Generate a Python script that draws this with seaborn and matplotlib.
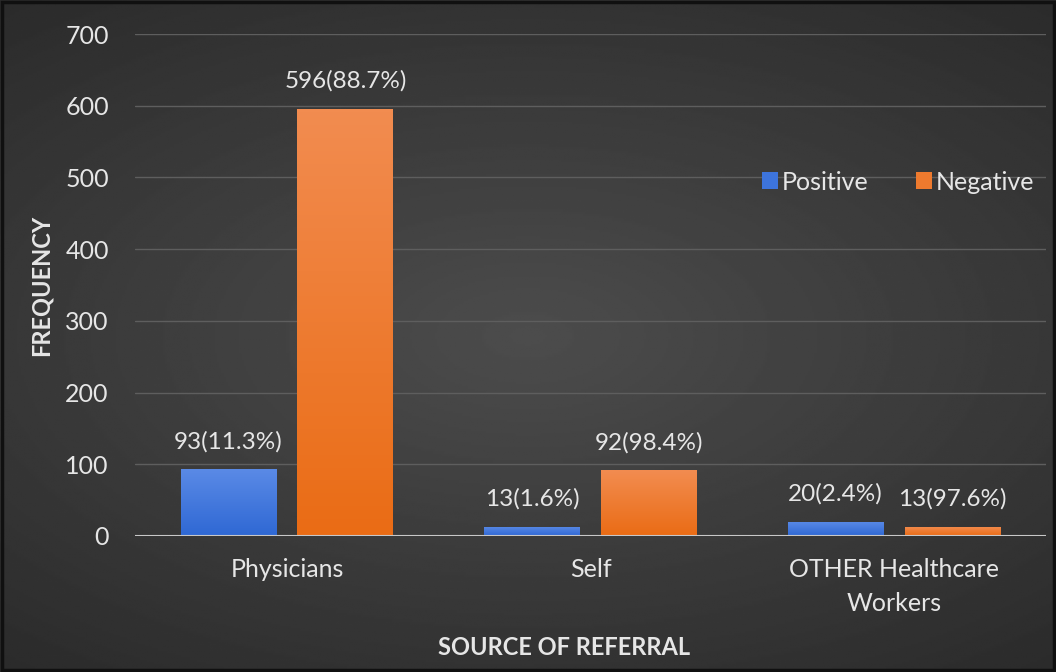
import numpy as np
import pandas as pd
import matplotlib
matplotlib.use('Agg')
import matplotlib.pyplot as plt
import seaborn as sns

categories = ['Physicians', 'Self', 'OTHER Healthcare\nWorkers']
positive = [93, 13, 20]
negative = [596, 92, 13]
pos_labels = ['93(11.3%)', '13(1.6%)', '20(2.4%)']
neg_labels = ['596(88.7%)', '92(98.4%)', '13(97.6%)']

df = pd.DataFrame({
    'source': categories * 2,
    'result': ['Positive'] * 3 + ['Negative'] * 3,
    'count': positive + negative,
})

sns.set_theme(style='dark')
plt.rcParams['font.family'] = ['Lato', 'DejaVu Sans']

fig = plt.figure(figsize=(10.56, 6.72), dpi=100)

# dark radial background
bg = fig.add_axes([0, 0, 1, 1], zorder=-10)
yy, xx = np.mgrid[-1:1:300j, -1:1:470j]
r = np.sqrt((xx * 0.9) ** 2 + (yy * 1.1) ** 2)
bg.imshow(0.30 - 0.13 * np.clip(r, 0, 1.4) / 1.4, cmap='gray', vmin=0, vmax=1,
          aspect='auto', extent=[0, 1, 0, 1])
bg.set_axis_off()
bg.add_patch(plt.Rectangle((0.002, 0.003), 0.996, 0.994, fill=False,
                           edgecolor='#101010', linewidth=2.5, transform=bg.transAxes))

ax = fig.add_axes([0.128, 0.2024, 0.8625, 0.747])
ax.set_facecolor('none')

sns.barplot(data=df, x='source', y='count', hue='result',
            palette={'Positive': '#3d74dc', 'Negative': '#ee7a2e'},
            width=0.77, gap=0.18, ax=ax, zorder=3, saturation=1, linewidth=0)

# vertical gradient on each bar
grad = np.linspace(1, 0, 100).reshape(-1, 1)
tops = {'#3d74dc': ('#5a8ae6', '#2f68d4'), '#ee7a2e': ('#f28c50', '#ea6c15')}
for bar, col in zip(ax.patches[:6], ['#3d74dc'] * 3 + ['#ee7a2e'] * 3):
    x0, y0 = bar.get_x(), bar.get_y()
    w, h = bar.get_width(), bar.get_height()
    if h <= 0:
        continue
    cm = matplotlib.colors.LinearSegmentedColormap.from_list('g', [tops[col][1], tops[col][0]])
    im = ax.imshow(grad, cmap=cm, aspect='auto', extent=[x0, x0 + w, y0, y0 + h],
                   zorder=4, vmin=0, vmax=1)
    im.set_clip_path(bar)

for cont, labs in zip(ax.containers, [pos_labels, neg_labels]):
    ax.bar_label(cont, labels=labs, padding=12, color='#e6e6e6', fontsize=17.5, zorder=6)

ax.set_ylim(0, 700)
ax.set_xlim(-0.5, 2.5)
ax.set_yticks(range(0, 701, 100))
ax.yaxis.grid(True, color='#5e5e5e', linewidth=1)
ax.xaxis.grid(False)
ax.axhline(0, color='#c8c8c8', linewidth=1.5, zorder=5)
for s in ax.spines.values():
    s.set_visible(False)
ax.tick_params(axis='both', colors='#e6e6e6', labelsize=18, length=0)
ax.tick_params(axis='y', pad=19)
ax.tick_params(axis='x', pad=16)
for t in ax.get_xticklabels():
    t.set_linespacing(1.55)
ax.set_ylabel('FREQUENCY', color='#e6e6e6', fontsize=17, fontweight='bold')
ax.set_xlabel('SOURCE OF REFERRAL', color='#e6e6e6', fontsize=17, fontweight='bold')
ax.yaxis.set_label_coords(-0.091, 0.5)
ax.xaxis.set_label_coords(0.471, -0.199)

leg = ax.legend(loc='center right', bbox_to_anchor=(1.012, 0.705), ncol=2, frameon=False,
                fontsize=18, handlelength=0.65, handleheight=0.65, handletextpad=0.15,
                columnspacing=1.9, labelcolor='#e6e6e6')

fig.savefig('out.png', dpi=100)
